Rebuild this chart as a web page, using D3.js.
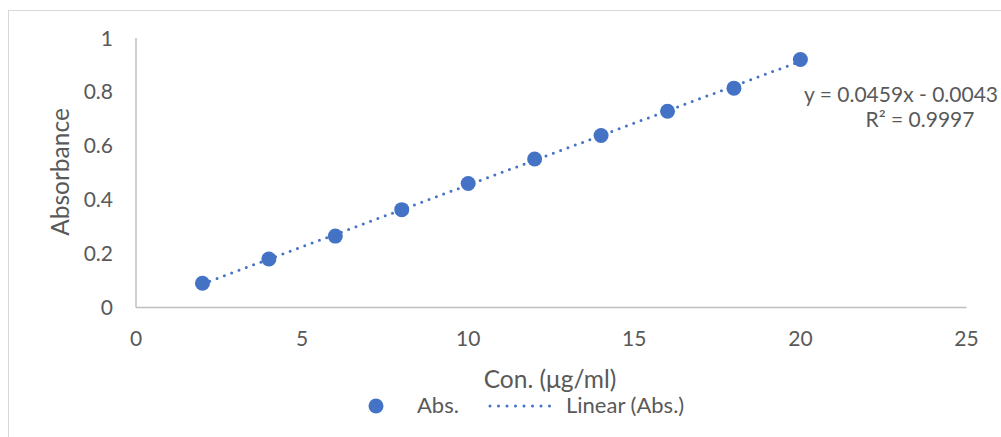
<!DOCTYPE html>
<html>
<head>
<meta charset="utf-8">
<script src="https://cdn.jsdelivr.net/npm/d3@7"></script>
<style>
  body { margin: 0; background: #fff; }
  text { font-family: Lato, "Open Sans", sans-serif; fill: #595959; }
</style>
</head>
<body>
<div id="chart"></div>
<script>
var concentrations = [2, 4, 6, 8, 10, 12, 14, 16, 18, 20];
var absorbance = [0.09, 0.18, 0.265, 0.363, 0.46, 0.551, 0.638, 0.728, 0.814, 0.92];
var xTicks = [0, 5, 10, 15, 20, 25];
var yTicks = [0, 0.2, 0.4, 0.6, 0.8, 1];
var slope = 0.0459, intercept = -0.0043;

var width = 1001, height = 437;
var blue = "#4472C4";

var svg = d3.select("#chart").append("svg")
  .attr("width", width).attr("height", height);

// chart border
svg.append("rect")
  .attr("x", 8.5).attr("y", 10.5)
  .attr("width", 1010).attr("height", 440)
  .attr("fill", "none").attr("stroke", "#d9d9d9");

var x = d3.scaleLinear().domain([0, 25]).range([136, 966.5]);
var y = d3.scaleLinear().domain([0, 1]).range([307.5, 38]);

// axes lines
svg.append("line")
  .attr("x1", x(0)).attr("x2", x(25)).attr("y1", y(0)).attr("y2", y(0))
  .attr("stroke", "#bfbfbf").attr("stroke-width", 1.5);
svg.append("line")
  .attr("x1", x(0)).attr("x2", x(0)).attr("y1", y(0)).attr("y2", y(1))
  .attr("stroke", "#bfbfbf").attr("stroke-width", 1.5);

// tick labels
svg.selectAll(".xt").data(xTicks).enter().append("text")
  .attr("x", (d) => x(d)).attr("y", 346)
  .attr("text-anchor", "middle").attr("font-size", "21px")
  .text((d) => d);
svg.selectAll(".yt").data(yTicks).enter().append("text")
  .attr("x", 113).attr("y", (d) => y(d) + 7.5)
  .attr("text-anchor", "end").attr("font-size", "21px")
  .text((d) => d);

// axis titles
svg.append("text")
  .attr("x", 550).attr("y", 388)
  .attr("text-anchor", "middle").attr("font-size", "24.5px")
  .text("Con. (μg/ml)");
svg.append("text")
  .attr("transform", "translate(69,172) rotate(-90)")
  .attr("text-anchor", "middle").attr("font-size", "24.5px")
  .text("Absorbance");

// trendline
var x0 = d3.min(concentrations), x1 = d3.max(concentrations);
svg.append("line")
  .attr("x1", x(x0)).attr("y1", y(slope * x0 + intercept))
  .attr("x2", x(x1)).attr("y2", y(slope * x1 + intercept))
  .attr("stroke", blue).attr("stroke-width", 3)
  .attr("stroke-linecap", "round").attr("stroke-dasharray", "0,7.8");

// points
svg.selectAll(".pt").data(concentrations).enter().append("circle")
  .attr("cx", (d) => x(d))
  .attr("cy", (d, i) => y(absorbance[i]))
  .attr("r", 7.5).attr("fill", blue);

// equation
svg.append("text")
  .attr("x", 998).attr("y", 102)
  .attr("text-anchor", "end").attr("font-size", "21px")
  .text("y = 0.0459x - 0.0043");
svg.append("text")
  .attr("x", 920).attr("y", 127)
  .attr("text-anchor", "middle").attr("font-size", "21px")
  .text("R² = 0.9997");

// legend
svg.append("circle").attr("cx", 376).attr("cy", 406).attr("r", 7.5).attr("fill", blue);
svg.append("text").attr("x", 417).attr("y", 413).attr("font-size", "22px").text("Abs.");
svg.append("line")
  .attr("x1", 490).attr("x2", 558).attr("y1", 406).attr("y2", 406)
  .attr("stroke", blue).attr("stroke-width", 3)
  .attr("stroke-linecap", "round").attr("stroke-dasharray", "0,8.5");
svg.append("text").attr("x", 566).attr("y", 413).attr("font-size", "22px").text("Linear (Abs.)");
</script>
</body>
</html>
